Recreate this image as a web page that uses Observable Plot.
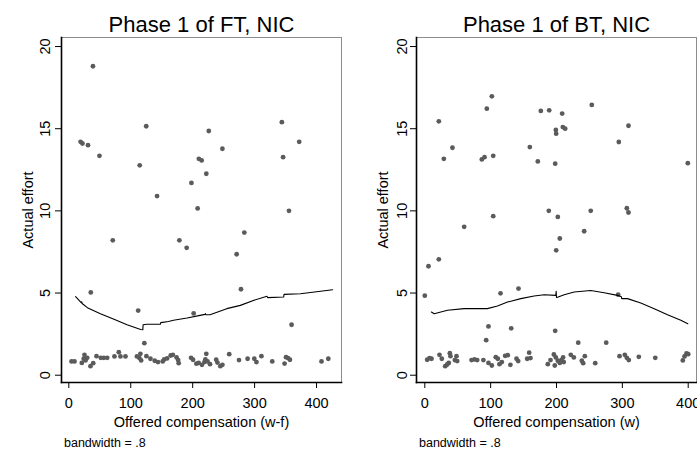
<!DOCTYPE html>
<html>
<head>
<meta charset="utf-8">
<script src="https://cdn.jsdelivr.net/npm/d3@7"></script>
<script src="https://cdn.jsdelivr.net/npm/@observablehq/plot@0.6"></script>
<style>
  html, body { margin: 0; padding: 0; background: #fff; }
  #wrap { position: relative; width: 697px; height: 450px; overflow: hidden; background: #fff; }
  .panel { position: absolute; top: 0; }
  .panel svg { overflow: visible; }
</style>
</head>
<body>
<div id="wrap"></div>
<script>
// ---------- DATA ----------
const titles = ["Phase 1 of FT, NIC", "Phase 1 of BT, NIC"];
const xLabels = ["Offered compensation (w-f)", "Offered compensation (w)"];
const yLabel = "Actual effort";
const note = "bandwidth = .8";
const xTicks = [0, 100, 200, 300, 400];
const yTicks = [0, 5, 10, 15, 20];

// Panel 1 (FT) scatter
const ftX = [19,22,31,39,49.5,114.5,125,142.5,198,208,210,214.5,222,226,248,344,346,355.5,372,
  71,178.5,190.3,283.4,271,278,35.5,112,201.6,359.7,122,
  4.4,9.2,21,24,25.3,27,29.7,35,39.4,44.7,51.6,56.5,62,73.7,80.7,83.4,91.5,110,114,115.6,116.8,125.3,131.8,138.7,
  144,151.6,154,158.7,164.5,168,174,176.5,177.4,197.4,200.6,206,209.7,215,219,220.5,222,224,228,238,240,244.7,248,259,274.8,288.7,
  299.5,303,311,328.5,348.4,350.7,353.9,357,408,419];
const ftY = [14.2,14.1,14.0,18.8,13.35,12.77,15.15,10.9,11.7,10.15,13.17,13.07,12.26,14.86,13.78,15.4,13.27,10.0,14.2,
  8.21,8.21,7.75,8.68,7.36,5.23,5.04,3.93,3.76,3.07,1.95,
  0.84,0.84,0.75,1.0,1.24,0.9,1.06,0.55,0.73,1.16,1.06,1.06,1.06,1.14,1.40,1.14,1.14,1.14,1.04,1.3,0.9,1.16,1.0,0.88,
  0.8,0.84,0.96,1.02,1.2,1.24,1.08,0.92,0.73,1.06,0.94,0.7,0.75,0.63,0.8,0.96,1.3,0.84,0.67,0.94,0.77,0.55,0.63,1.28,0.92,1.0,
  1.0,0.8,1.16,0.84,0.71,1.1,1.04,0.94,0.84,1.0];
// Panel 1 smoother
const ftLowX = [11,20,21,21.5,30,51,73,94,116,119.5,120,126,148,148.5,161,169,191,212,220,220.5,221,228,255,277,298,320,321,347,347.5,374,426];
const ftLowY = [4.78,4.42,4.46,4.36,4.11,3.74,3.40,3.07,2.78,2.77,3.07,3.1,3.1,3.2,3.27,3.34,3.48,3.64,3.7,3.75,3.68,3.68,4.05,4.25,4.55,4.8,4.72,4.76,4.92,4.96,5.2];

// Panel 2 (BT) scatter
const btX = [21.3,28.9,42,86.6,90.7,94.2,101.8,103.9,103.9,159.5,171.6,176.2,188.9,188.3,198,199,199.5,202,208.6,209.6,213.2,252,253.6,294.6,306.8,309.3,309.3,399.4,
  59.8,242,205,199.5,5.6,21.3,0,115,142.3,293.7,96.7,131.2,93.2,198,233,275.5,
  3.6,7.1,10.2,22.3,25.8,31,34,36.4,38,39,45.6,48.1,49.2,71,75.5,79.6,89,96.7,101.8,107.8,110.9,113.4,117,122,126,130,
  139.3,141.8,155.5,158.5,160.5,186.8,190.9,196,197.4,199,202,205,207.6,210,211,221.7,226.3,238.4,240.5,243,258.8,
  295.7,303.7,306.8,309.8,325,350,391.8,394.4,397.4,400];
const btY = [15.45,13.17,13.84,13.13,13.27,16.22,16.97,13.35,9.68,13.88,13.01,16.08,16.12,10.0,12.87,14.92,14.7,9.63,15.92,15.1,15.0,10.0,16.45,14.19,10.16,15.18,9.9,12.9,
  9.03,8.76,8.32,7.6,6.63,7.05,4.84,4.98,5.27,4.9,2.97,2.85,2.13,2.7,1.98,1.98,
  0.94,1.04,1.0,1.24,1.0,0.55,0.65,0.75,1.34,1.16,0.92,1.16,0.86,0.92,0.96,0.92,0.92,0.75,0.59,1.1,1.0,0.67,0.8,1.18,1.22,0.63,
  1.0,0.86,1.0,1.37,1.04,0.67,0.92,1.26,0.59,1.08,0.88,0.75,0.92,1.08,0.8,1.24,1.08,0.88,0.73,1.16,0.73,
  1.16,1.24,1.06,0.92,1.12,1.06,0.9,1.14,1.32,1.28];
// Panel 2 smoother
const btLowX = [10,14.3,34.5,59.8,95,110.4,125.6,145.8,166,181.3,199,199.5,200,201.5,211.7,226.9,252,272.4,292.6,298.5,299,307.8,328,348.4,368.6,388.8,399.4];
const btLowY = [3.84,3.74,3.95,4.05,4.05,4.21,4.45,4.66,4.82,4.9,4.86,5.1,4.73,4.74,4.9,5.06,5.15,5.02,4.86,4.78,4.66,4.66,4.39,4.05,3.68,3.34,3.13];

// ---------- DRAW ----------
const FONT = "'Liberation Sans', Arial, Helvetica, sans-serif";
const zip = (xs, ys) => xs.map((x, i) => ({x, y: ys[i]}));

function panel({left, width, mL, mR, xDom, title, xLabel, pts, low, yTitleDx, yTickPad}) {
  const mT = 37, mB = 68, H = 450;
  const chart = Plot.plot({
    width, height: H,
    marginLeft: mL, marginRight: mR, marginTop: mT, marginBottom: mB,
    style: {fontFamily: FONT, fontSize: "14.5px", background: "transparent", color: "#000"},
    x: {domain: xDom, ticks: xTicks},
    y: {domain: [-0.444, 20.55], ticks: yTicks},
    marks: [
      Plot.frame({stroke: "#8c8c8c", strokeWidth: 1}),
      Plot.dot(pts, {x: "x", y: "y", r: 2.4, fill: "#5b5b5b", stroke: null}),
      Plot.line(low, {x: "x", y: "y", stroke: "#000", strokeWidth: 1.1}),
      Plot.frame({anchor: "left", stroke: "#000", strokeWidth: 1.6}),
      Plot.frame({anchor: "bottom", stroke: "#000", strokeWidth: 1.6}),
      Plot.axisX({ticks: xTicks, tickSize: 6, tickPadding: 9, label: null, fontSize: 14.5}),
      Plot.axisY({ticks: yTicks, tickSize: 6, tickPadding: yTickPad, tickRotate: -90, label: null, fontSize: 14.5}),
      Plot.text([title], {frameAnchor: "top", dy: -5.3, lineAnchor: "bottom", fontSize: 22}),
      Plot.text([xLabel], {frameAnchor: "bottom", dy: 44.7, lineAnchor: "bottom", fontSize: 14.5}),
      Plot.text([yLabel], {frameAnchor: "left", dx: yTitleDx, rotate: -90, lineAnchor: "bottom", textAnchor: "middle", fontSize: 14.5}),
      Plot.text([note], {frameAnchor: "bottom-left", dx: 2.5, dy: 64.7, lineAnchor: "bottom", textAnchor: "start", fontSize: 12.5})
    ]
  });
  const div = document.createElement("div");
  div.className = "panel";
  div.style.left = left + "px";
  div.appendChild(chart);
  document.getElementById("wrap").appendChild(div);
}

panel({left: 0, width: 348, mL: 61, mR: 7, xDom: [-11.8, 440.3], title: titles[0], xLabel: xLabels[0],
  pts: zip(ftX, ftY), low: zip(ftLowX, ftLowY), yTitleDx: -28.5, yTickPad: 5.5});
panel({left: 348, width: 349, mL: 68, mR: 1, xDom: [-12.6, 412.6], title: titles[1], xLabel: xLabels[1],
  pts: zip(btX, btY), low: zip(btLowX, btLowY), yTitleDx: -29, yTickPad: 4});
</script>
</body>
</html>
